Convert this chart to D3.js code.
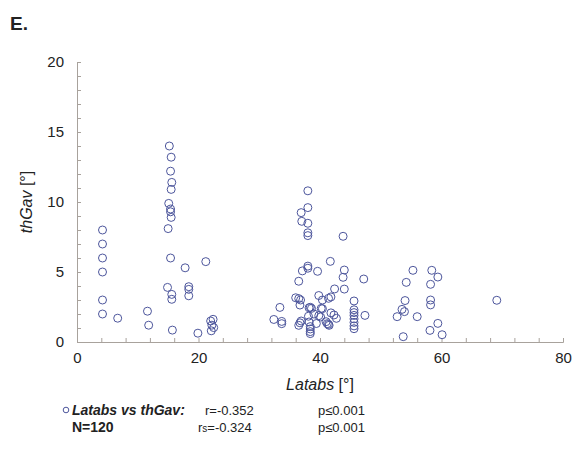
<!DOCTYPE html>
<html>
<head>
<meta charset="utf-8">
<script src="https://cdn.jsdelivr.net/npm/d3@7"></script>
<style>
  body { margin: 0; background: #fff; }
  text { font-family: "Liberation Sans", Arial, sans-serif; fill: #222; }
</style>
</head>
<body>
<div id="chart"></div>
<script>
const wh = 573,
    ht = 450;

// Latabs [°] values
const latabs = [
    4.2, 4.2, 4.2, 4.2, 4.2, 4.2, 6.7, 11.6, 11.8,
    15.2, 15.5, 15.4, 15.6, 15.5, 15.1, 15.4, 15.4, 15.5, 15.0, 15.4, 14.9, 15.6, 15.6, 15.7,
    17.8, 18.4, 18.4, 18.4, 21.2, 19.9,
    22.0, 22.4, 22.2, 22.5, 22.1,
    38.0, 38.0, 36.9, 37.0, 38.0, 38.0, 38.0, 43.8, 41.7, 38.0,
    38.0, 37.1, 39.6, 44.0, 43.8, 36.5, 47.2, 42.4, 44.0, 36.0,
    36.5, 36.7, 39.8, 40.4, 41.4, 41.8, 45.6, 33.4, 32.4, 33.7,
    33.7, 36.5, 36.7, 38.2, 38.4, 40.4, 38.1, 39.8, 40.1, 38.2,
    38.4, 38.4, 38.4, 38.4, 39.4, 41.0, 41.2, 41.5, 41.8, 42.3,
    42.7, 45.6, 45.6, 45.6, 45.6, 45.6, 45.6, 45.6, 47.4,
    36.8, 36.9, 38.6, 40.2, 41.4, 39.0,
    55.3, 58.4, 59.4, 54.2, 58.2, 54.0, 58.2, 58.2, 53.5, 53.9,
    52.7, 56.0, 59.4, 58.1, 60.1, 53.7, 69.1
]

// thGav [°] values, same order
const thgav = [
    8.0, 7.0, 6.0, 5.0, 3.0, 2.0, 1.7, 2.2, 1.2,
    14.0, 13.2, 12.2, 11.4, 10.9, 9.9, 9.5, 9.3, 8.9, 8.1, 6.0, 3.9, 3.4, 3.05, 0.85,
    5.3, 3.95, 3.76, 3.3, 5.74, 0.63,
    1.5, 1.62, 1.2, 1.03, 0.8,
    10.8, 9.6, 9.24, 8.62, 8.48, 7.8, 7.6, 7.55, 5.76, 5.42,
    5.27, 5.08, 5.05, 5.14, 4.62, 4.34, 4.5, 3.79, 3.78, 3.16,
    3.1, 2.64, 3.32, 3.0, 3.12, 3.22, 2.93, 2.47, 1.61, 1.47,
    1.31, 1.19, 1.37, 2.44, 2.48, 2.38, 1.84, 1.88, 1.79, 1.43,
    1.1, 0.93, 0.74, 0.6, 1.32, 1.45, 1.31, 1.19, 2.08, 1.93,
    1.69, 2.3, 2.1, 1.9, 1.65, 1.4, 1.15, 0.95, 1.9,
    3.0, 1.5, 2.4, 2.4, 1.26, 2.0,
    5.12, 5.12, 4.64, 4.26, 4.12, 2.96, 3.0, 2.65, 2.33, 2.17,
    1.81, 1.81, 1.33, 0.83, 0.52, 0.38, 2.98
]

const xTicks = [0, 20, 40, 60, 80]
const yTicks = [0, 5, 10, 15, 20]

const svg = d3.select("#chart")
    .append("svg")
    .attr("width", wh)
    .attr("height", ht)

const x = d3.scaleLinear()
        .domain([0, 80])
        .range([77, 563])

const y = d3.scaleLinear()
        .domain([0, 20])
        .range([342, 62])

const axisColor = "#a8a29c"

// panel letter
svg.append("text")
    .attr("x", 10)
    .attr("y", 30)
    .attr("font-size", 19)
    .attr("font-weight", "bold")
    .attr("fill", "#111")
    .text("E.")

// minor ticks, pointing inwards
svg.append("g")
    .attr("class", "y-minor")
    .attr("transform", "translate(77,0)")
    .call(d3.axisRight(y).tickValues(d3.range(0, 21, 1)).tickSize(4).tickFormat(""))

svg.append("g")
    .attr("class", "x-minor")
    .attr("transform", "translate(0,342)")
    .call(d3.axisTop(x).tickValues(d3.range(0, 81, 4)).tickSize(4).tickFormat(""))

svg.selectAll(".y-minor path, .y-minor line, .x-minor path, .x-minor line")
    .attr("stroke", axisColor)

// tick labels
var leftAxis = d3.axisLeft(y).tickValues(yTicks).tickSize(0).tickPadding(13)
svg.append("g")
    .attr("class", "y-axis")
    .attr("transform", "translate(77,0)")
    .call(leftAxis)
    .call(g => g.select(".domain").remove())

var bottomAxis = d3.axisBottom(x).tickValues(xTicks).tickSize(0).tickPadding(10)
svg.append("g")
    .attr("class", "x-axis")
    .attr("transform", "translate(0,342)")
    .call(bottomAxis)
    .call(g => g.select(".domain").remove())

svg.selectAll(".y-axis text, .x-axis text")
    .attr("font-size", 15)
    .attr("font-family", "Liberation Sans, Arial, sans-serif")
    .attr("fill", "#222")

// axis titles
var yTitle = svg.append("text")
    .attr("transform", "translate(32,202) rotate(-90)")
    .attr("text-anchor", "middle")
    .attr("font-size", 16)
yTitle.append("tspan").attr("font-style", "italic").text("thGav")
yTitle.append("tspan").text(" [°]")

var xTitle = svg.append("text")
    .attr("x", 320)
    .attr("y", 390)
    .attr("text-anchor", "middle")
    .attr("font-size", 16)
xTitle.append("tspan").attr("font-style", "italic").text("Latabs")
xTitle.append("tspan").text(" [°]")

// points
const pts = latabs.map(function(d, i) { return {lat: d, th: thgav[i]} })

svg.append("g")
    .selectAll("circle")
    .data(pts)
    .enter()
    .append("circle")
    .attr("cx", function(d) { return x(d.lat) })
    .attr("cy", function(d) { return y(d.th) })
    .attr("r", 4)
    .attr("fill", "none")
    .attr("stroke", "#4d569c")
    .attr("stroke-width", 1)

// legend / stats
svg.append("circle")
    .attr("cx", 66)
    .attr("cy", 410)
    .attr("r", 2.8)
    .attr("fill", "none")
    .attr("stroke", "#4d569c")

svg.append("text")
    .attr("x", 72).attr("y", 415)
    .attr("font-size", 14).attr("font-weight", "bold").attr("font-style", "italic")
    .text("Latabs vs thGav:")

svg.append("text")
    .attr("x", 205).attr("y", 415)
    .attr("font-size", 13)
    .text("r=-0.352")

svg.append("text")
    .attr("x", 318).attr("y", 415)
    .attr("font-size", 13)
    .text("p≤0.001")

svg.append("text")
    .attr("x", 72).attr("y", 432)
    .attr("font-size", 14).attr("font-weight", "bold")
    .text("N=120")

var rs = svg.append("text")
    .attr("x", 198).attr("y", 432)
    .attr("font-size", 13)
rs.append("tspan").text("r")
rs.append("tspan").attr("font-size", 10).text("s")
rs.append("tspan").text("=-0.324")

svg.append("text")
    .attr("x", 318).attr("y", 432)
    .attr("font-size", 13)
    .text("p≤0.001")
</script>
</body>
</html>
